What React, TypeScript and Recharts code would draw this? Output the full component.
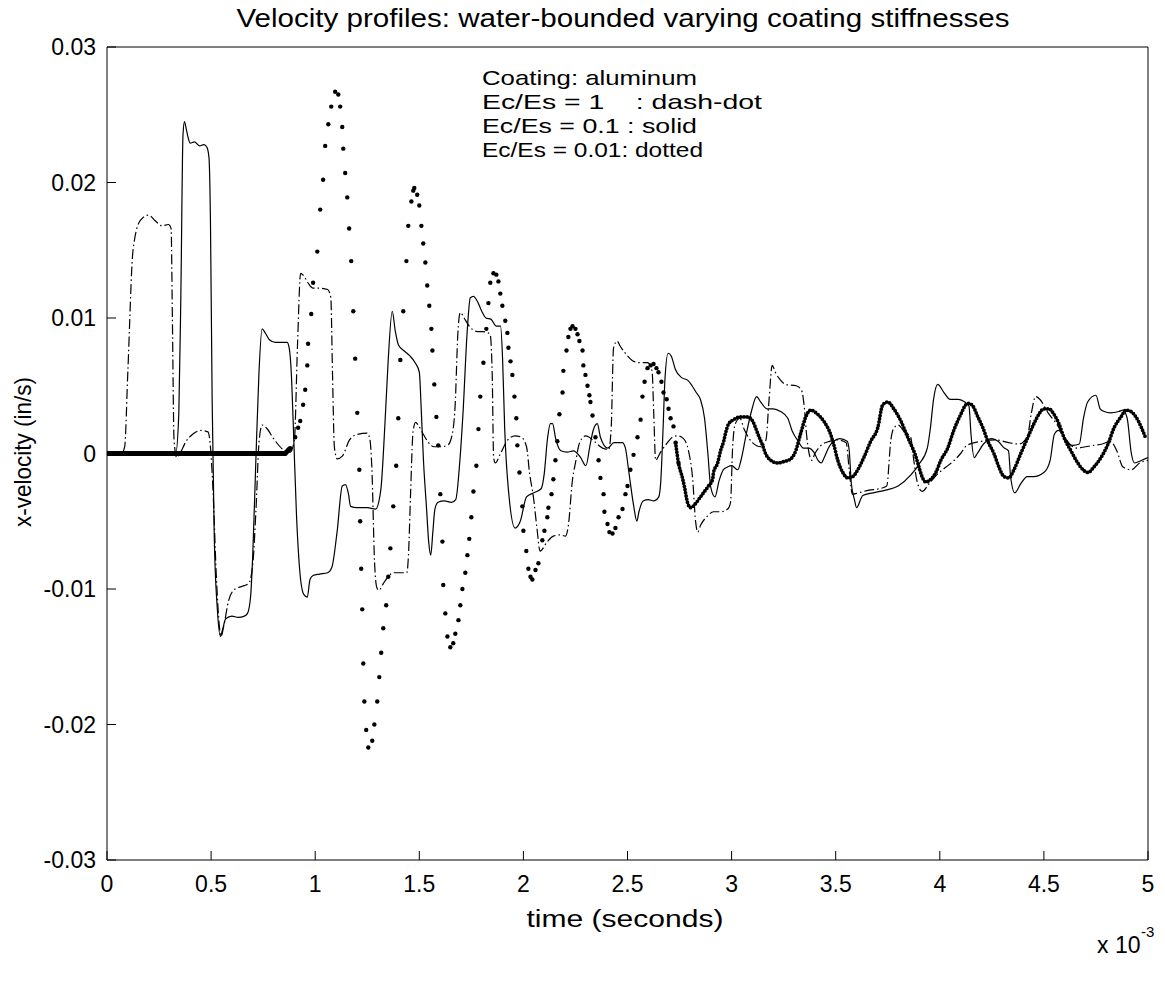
import React from 'react';
import { LineChart, Line, XAxis, YAxis } from 'recharts';

const FONT = '"Liberation Sans", Arial, Helvetica, sans-serif';

const timeTicks = [0, 0.5, 1, 1.5, 2, 2.5, 3, 3.5, 4, 4.5, 5];
const velocityTicks = [-0.03, -0.02, -0.01, 0, 0.01, 0.02, 0.03];

// Ec/Es = 1 (dash-dot), [time x1e-3 s, velocity in/s]
const stiff: [number, number][] = [
  [0, 0], [0.07, 0], [0.085, 0.0005], [0.1, 0.006], [0.125, 0.015], [0.16, 0.0172], [0.2, 0.0176],
  [0.23, 0.0172], [0.265, 0.0168], [0.295, 0.0169], [0.308, 0.0166], [0.314, 0.01], [0.322, 0.001],
  [0.335, -0.0003], [0.35, 0], [0.38, 0.0009], [0.41, 0.0014], [0.45, 0.0017], [0.485, 0.0016],
  [0.495, 0.0008], [0.51, -0.003], [0.525, -0.009], [0.54, -0.0128], [0.548, -0.0135], [0.56, -0.0128],
  [0.585, -0.0108], [0.615, -0.01], [0.65, -0.0098], [0.68, -0.0096], [0.7, -0.0082], [0.716, -0.004],
  [0.73, 0.0008], [0.745, 0.0021], [0.765, 0.0019], [0.8, 0.0011], [0.845, 0.0003], [0.88, 0.0001],
  [0.9, 0.001], [0.915, 0.008], [0.93, 0.0133], [0.945, 0.0131], [0.965, 0.0126], [0.99, 0.0122],
  [1.02, 0.0122], [1.06, 0.0121], [1.075, 0.0115], [1.083, 0.006], [1.092, 0.0005], [1.106, -0.0004],
  [1.13, -0.0002], [1.165, 0.001], [1.2, 0.0014], [1.25, 0.0015], [1.262, 0.0011], [1.272, -0.001],
  [1.285, -0.008], [1.296, -0.0099], [1.305, -0.0101], [1.327, -0.0096], [1.35, -0.0091], [1.375, -0.0088],
  [1.41, -0.0088], [1.44, -0.0088], [1.448, -0.0075], [1.458, -0.003], [1.47, 0.0016], [1.482, 0.0023],
  [1.495, 0.0021], [1.52, 0.0014], [1.54, 0.0009], [1.57, 0.0005], [1.6, 0.0005], [1.635, 0.0006],
  [1.655, 0.0012], [1.672, 0.0035], [1.685, 0.0088], [1.697, 0.0104], [1.715, 0.01], [1.745, 0.0093],
  [1.78, 0.009], [1.805, 0.009], [1.84, 0.0088], [1.85, 0.006], [1.857, -0.0003], [1.865, -0.0007],
  [1.89, 0], [1.925, 0.001], [1.96, 0.0013], [1.99, 0.0012], [2.015, 0.0005], [2.03, -0.0015],
  [2.048, -0.0032], [2.065, -0.0055], [2.08, -0.0072], [2.115, -0.0065], [2.144, -0.0061], [2.178, -0.006],
  [2.202, -0.0061], [2.216, -0.0053], [2.236, -0.0019], [2.25, -0.0007], [2.27, 0.0008], [2.3, 0.0013],
  [2.34, 0.0009], [2.38, 0.0004], [2.41, 0.0003], [2.422, 0.002], [2.433, 0.0078], [2.45, 0.0083],
  [2.466, 0.0079], [2.5, 0.0072], [2.529, 0.0068], [2.563, 0.0067], [2.596, 0.0067], [2.618, 0.0061],
  [2.626, 0.003], [2.635, -0.0005], [2.659, 0.0001], [2.692, 0.0008], [2.716, 0.0012], [2.74, 0.0013],
  [2.769, 0.0011], [2.793, 0.0002], [2.813, -0.0019], [2.827, -0.005], [2.837, -0.0058], [2.851, -0.0053],
  [2.885, -0.0046], [2.913, -0.0043], [2.947, -0.0043], [2.981, -0.0041], [2.995, -0.0036], [3.005, 0.0005],
  [3.018, 0.0022], [3.04, 0.0026], [3.06, 0.0018], [3.1, 0.0008], [3.14, 0.0005], [3.165, 0.001],
  [3.18, 0.004], [3.195, 0.0065], [3.21, 0.006], [3.23, 0.0055], [3.26, 0.0051], [3.31, 0.005],
  [3.335, 0.0047], [3.35, 0.0033], [3.36, 0.0014], [3.37, 0.0002], [3.385, -0.0005], [3.4, 0],
  [3.43, 0.0006], [3.47, 0.0009], [3.51, 0.001], [3.55, 0.0008], [3.565, -0.0012], [3.58, -0.003],
  [3.61, -0.0029], [3.66, -0.0027], [3.71, -0.0026], [3.745, -0.0024], [3.765, 0.001], [3.78, 0.0019],
  [3.8, 0.0021], [3.83, 0.0016], [3.86, 0.0012], [3.875, -0.0005], [3.89, -0.002], [3.915, -0.0028],
  [3.95, -0.0022], [3.99, -0.0015], [4.03, -0.001], [4.07, -0.0005], [4.1, 0], [4.13, 0.0006],
  [4.2, 0.0009], [4.27, 0.001], [4.33, 0.0008], [4.38, 0.0007], [4.42, 0.0012], [4.44, 0.003],
  [4.46, 0.0042], [4.48, 0.004], [4.52, 0.003], [4.56, 0.0022], [4.6, 0.0012], [4.63, 0.0006],
  [4.66, 0.0004], [4.7, 0.0005], [4.74, 0.0006], [4.78, 0.0007], [4.82, 0.0009], [4.85, 0.0002],
  [4.88, -0.001], [4.92, -0.0012], [4.96, -0.0007], [5, -0.0005],
];

// Ec/Es = 0.1 (solid)
const medium: [number, number][] = [
  [0, 0], [0.33, 0], [0.345, 0.003], [0.355, 0.012], [0.365, 0.0235], [0.372, 0.0245], [0.38, 0.024],
  [0.39, 0.0233], [0.4, 0.0229], [0.42, 0.023], [0.445, 0.0227], [0.465, 0.0228], [0.48, 0.0226],
  [0.49, 0.0218], [0.497, 0.017], [0.505, 0.004], [0.515, -0.006], [0.53, -0.0115], [0.545, -0.0135],
  [0.555, -0.013], [0.57, -0.0122], [0.6, -0.012], [0.63, -0.0121], [0.66, -0.012], [0.675, -0.0118],
  [0.69, -0.0105], [0.7, -0.0075], [0.715, -0.0005], [0.73, 0.006], [0.745, 0.0092], [0.76, 0.0089],
  [0.78, 0.0084], [0.81, 0.0082], [0.84, 0.0082], [0.865, 0.0082], [0.875, 0.0078], [0.885, 0.006],
  [0.895, 0.002], [0.91, -0.0045], [0.925, -0.0085], [0.945, -0.0104], [0.962, -0.0106], [0.975, -0.0093],
  [0.99, -0.009], [1.02, -0.0089], [1.06, -0.0088], [1.08, -0.0084], [1.105, -0.0058], [1.13, -0.0024],
  [1.145, -0.0023], [1.16, -0.003], [1.17, -0.0039], [1.2, -0.004], [1.25, -0.004], [1.29, -0.0041],
  [1.315, -0.0027], [1.335, 0.0022], [1.35, 0.0067], [1.37, 0.0105], [1.385, 0.009], [1.4, 0.008],
  [1.425, 0.0076], [1.455, 0.0072], [1.48, 0.0067], [1.5, 0.006], [1.51, 0.003], [1.52, -0.0005],
  [1.535, -0.0041], [1.545, -0.0065], [1.555, -0.0075], [1.565, -0.0058], [1.575, -0.0041], [1.59, -0.0036],
  [1.62, -0.0035], [1.655, -0.0036], [1.675, -0.0034], [1.695, -0.0005], [1.71, 0.003], [1.73, 0.009],
  [1.745, 0.0115], [1.76, 0.0116], [1.78, 0.0112], [1.8, 0.0105], [1.82, 0.01], [1.845, 0.0099],
  [1.87, 0.0094], [1.89, 0.0094], [1.9, 0.007], [1.91, 0.0019], [1.93, -0.003], [1.96, -0.0055],
  [1.985, -0.005], [2.015, -0.0032], [2.05, -0.0029], [2.085, -0.0026], [2.1, -0.0015], [2.115, 0.001],
  [2.13, 0.0022], [2.14, 0.0022], [2.155, 0.0011], [2.18, 0.0002], [2.21, 0.0001], [2.24, 0.0002],
  [2.275, -0.0003], [2.3, -0.0009], [2.32, 0.0006], [2.335, 0.0017], [2.355, 0.0022], [2.37, 0.0012],
  [2.405, 0.0004], [2.435, 0.0008], [2.475, 0.0008], [2.49, 0.0004], [2.505, -0.0012], [2.53, -0.0039],
  [2.545, -0.005], [2.555, -0.0043], [2.575, -0.0035], [2.6, -0.0034], [2.625, -0.0035], [2.65, -0.0032],
  [2.66, -0.002], [2.67, 0.0015], [2.68, 0.0055], [2.695, 0.0074], [2.71, 0.0072], [2.73, 0.0062],
  [2.76, 0.0056], [2.79, 0.0054], [2.81, 0.005], [2.83, 0.0045], [2.85, 0.004], [2.87, 0.0026],
  [2.885, 0.0002], [2.9, -0.0025], [2.92, -0.0032], [2.94, -0.002], [2.96, -0.0012], [2.98, -0.001],
  [3, -0.0009], [3.03, -0.0012], [3.045, -0.0005], [3.07, 0.0014], [3.095, 0.0031], [3.12, 0.0042],
  [3.14, 0.0038], [3.17, 0.0033], [3.2, 0.0033], [3.235, 0.0031], [3.27, 0.0026], [3.29, 0.0017],
  [3.32, 0.0009], [3.345, 0.0004], [3.37, 0.0004], [3.395, 0.0001], [3.415, -0.0005], [3.43, -0.0007],
  [3.445, -0.0003], [3.465, 0.0004], [3.49, 0.0009], [3.52, 0.0011], [3.555, 0.0009], [3.565, 0.0002],
  [3.575, -0.0022], [3.59, -0.0034], [3.6, -0.004], [3.63, -0.0031], [3.68, -0.0029], [3.74, -0.0027],
  [3.8, -0.0024], [3.86, -0.0016], [3.9, -0.0008], [3.94, 0.0004], [3.955, 0.0019], [3.97, 0.004],
  [3.99, 0.0051], [4.02, 0.0045], [4.05, 0.004], [4.09, 0.004], [4.12, 0.0038], [4.14, 0.0035],
  [4.15, 0.0014], [4.165, -0.0003], [4.18, 0], [4.21, 0.0007], [4.25, 0.0011], [4.28, 0.0009],
  [4.31, 0.0004], [4.33, 0.0002], [4.34, -0.0017], [4.36, -0.0029], [4.39, -0.0022], [4.42, -0.0017],
  [4.45, -0.0017], [4.5, -0.0014], [4.53, -0.0005], [4.55, 0.0014], [4.57, 0.0017], [4.62, 0.0007],
  [4.64, 0.0006], [4.67, 0.0007], [4.69, 0.0026], [4.71, 0.0038], [4.75, 0.0043], [4.77, 0.0033],
  [4.79, 0.0031], [4.82, 0.003], [4.86, 0.0031], [4.88, 0.0032], [4.9, 0.0026], [4.92, 0],
  [4.935, -0.0007], [4.97, -0.0005], [5, -0.0003],
];

// Ec/Es = 0.01 (dotted)
const soft: [number, number][] = [
  [0, 0], [0.856, 0], [0.88, 0.0004], [0.904, 0.0012], [0.918, 0.0019], [0.928, 0.0024], [0.942, 0.0036],
  [0.952, 0.0047], [0.962, 0.0065], [0.966, 0.0081], [0.981, 0.0103], [0.99, 0.0126], [1.01, 0.0149],
  [1.024, 0.018], [1.038, 0.0202], [1.048, 0.0227], [1.063, 0.0243], [1.077, 0.0256], [1.096, 0.0267],
  [1.111, 0.0265], [1.12, 0.0256], [1.13, 0.0241], [1.135, 0.0225], [1.144, 0.0207], [1.154, 0.0189],
  [1.163, 0.0166], [1.173, 0.0142], [1.183, 0.0105], [1.192, 0.007], [1.202, 0.003], [1.212, -0.0012],
  [1.216, -0.005], [1.221, -0.0085], [1.226, -0.0115], [1.231, -0.0155], [1.236, -0.0183], [1.245, -0.0204],
  [1.255, -0.0217], [1.274, -0.0212], [1.284, -0.02], [1.298, -0.0183], [1.308, -0.0165], [1.317, -0.0147],
  [1.327, -0.0129], [1.341, -0.0112], [1.351, -0.0091], [1.361, -0.007], [1.375, -0.0039], [1.389, -0.0009],
  [1.399, 0.0026], [1.409, 0.0069], [1.423, 0.0105], [1.438, 0.0142], [1.447, 0.0168], [1.462, 0.0186],
  [1.471, 0.0194], [1.476, 0.0196], [1.49, 0.0191], [1.5, 0.0183], [1.51, 0.0168], [1.519, 0.0155],
  [1.529, 0.0141], [1.538, 0.0124], [1.548, 0.0109], [1.558, 0.0092], [1.563, 0.0076], [1.572, 0.0051],
  [1.582, 0.0027], [1.591, 0.0006], [1.601, -0.003], [1.611, -0.0065], [1.615, -0.0097], [1.625, -0.0118],
  [1.635, -0.0135], [1.649, -0.0143], [1.663, -0.014], [1.673, -0.0133], [1.688, -0.0123], [1.697, -0.0112],
  [1.707, -0.01], [1.721, -0.0088], [1.731, -0.0075], [1.74, -0.0063], [1.75, -0.0047], [1.76, -0.0028],
  [1.774, -0.0009], [1.784, 0.0018], [1.793, 0.0042], [1.808, 0.0067], [1.822, 0.0092], [1.832, 0.0111],
  [1.841, 0.0126], [1.856, 0.0133], [1.87, 0.0132], [1.88, 0.0127], [1.889, 0.0118], [1.899, 0.0109],
  [1.913, 0.0098], [1.923, 0.0089], [1.928, 0.0078], [1.938, 0.0068], [1.947, 0.0058], [1.957, 0.0042],
  [1.966, 0.0026], [1.971, 0.0006], [1.981, -0.0014], [1.995, -0.0039], [2.0, -0.0057], [2.014, -0.0072],
  [2.024, -0.0085], [2.034, -0.0091], [2.043, -0.0093], [2.058, -0.0086], [2.072, -0.0081], [2.091, -0.0064],
  [2.101, -0.0057], [2.115, -0.0047], [2.12, -0.004], [2.135, -0.003], [2.144, -0.0019], [2.154, -0.0005],
  [2.163, 0.0009], [2.173, 0.0029], [2.188, 0.0045], [2.192, 0.0061], [2.207, 0.0076], [2.216, 0.0086],
  [2.226, 0.0092], [2.236, 0.0094], [2.25, 0.0092], [2.26, 0.0088], [2.269, 0.0083], [2.284, 0.0076],
  [2.288, 0.0065], [2.298, 0.0058], [2.308, 0.005], [2.317, 0.0043], [2.322, 0.0038], [2.332, 0.0028],
  [2.346, 0.0012], [2.361, -0.0005], [2.37, -0.0018], [2.385, -0.003], [2.389, -0.0043], [2.404, -0.0052],
  [2.413, -0.0058], [2.428, -0.0059], [2.442, -0.0055], [2.457, -0.0047], [2.476, -0.0041], [2.49, -0.003],
  [2.5, -0.0024], [2.514, -0.0012], [2.529, -0.0001], [2.548, 0.0012], [2.563, 0.0025], [2.572, 0.0042],
  [2.582, 0.0053], [2.596, 0.0063], [2.611, 0.0065], [2.625, 0.0066], [2.639, 0.0063], [2.649, 0.006],
  [2.663, 0.0053], [2.673, 0.0045], [2.688, 0.004], [2.697, 0.0033], [2.707, 0.0026], [2.721, 0.002],
  [2.731, 0.0008], [2.745, -0.0007], [2.764, -0.0018], [2.774, -0.0025], [2.788, -0.0036], [2.803, -0.004],
  [2.827, -0.0037], [2.841, -0.0034], [2.865, -0.0029], [2.889, -0.0024], [2.909, -0.0019], [2.913, -0.0014],
  [2.933, -0.0007], [2.947, 0.0002], [2.962, 0.0009], [2.971, 0.0015], [2.986, 0.0022], [3.01, 0.0025],
  [3.043, 0.0027], [3.077, 0.0027], [3.101, 0.0024], [3.115, 0.0019], [3.13, 0.0013], [3.149, 0.0006],
  [3.163, 0], [3.188, -0.0005], [3.221, -0.0007], [3.25, -0.0006], [3.284, -0.0004], [3.308, 0.0002],
  [3.332, 0.0015], [3.356, 0.0027], [3.38, 0.0032], [3.413, 0.0029], [3.442, 0.0024], [3.476, 0.0014],
  [3.49, 0.0007], [3.51, -0.0005], [3.534, -0.0014], [3.558, -0.0018], [3.582, -0.0017], [3.606, -0.0012],
  [3.635, -0.0003], [3.668, 0.0009], [3.702, 0.0019], [3.726, 0.0036], [3.75, 0.0038], [3.779, 0.0033],
  [3.813, 0.0024], [3.846, 0.0012], [3.875, 0.0002], [3.933, -0.0021], [3.957, -0.0019], [3.981, -0.0014],
  [4.005, -0.0005], [4.038, 0.0004], [4.067, 0.0017], [4.101, 0.0029], [4.125, 0.0036], [4.139, 0.0037],
  [4.159, 0.0035], [4.183, 0.0027], [4.207, 0.0019], [4.231, 0.0009], [4.26, 0], [4.284, -0.001],
  [4.308, -0.0017], [4.332, -0.0018], [4.356, -0.0012], [4.389, 0], [4.423, 0.0012], [4.452, 0.0022],
  [4.476, 0.0029], [4.5, 0.0033], [4.524, 0.0033], [4.548, 0.0029], [4.572, 0.0022], [4.596, 0.0012],
  [4.63, 0.0002], [4.663, -0.0007], [4.688, -0.0012], [4.712, -0.0014], [4.74, -0.001], [4.774, -0.0003],
  [4.808, 0.0007], [4.837, 0.0019], [4.87, 0.0027], [4.894, 0.0032], [4.918, 0.0031], [4.942, 0.0027],
  [4.966, 0.002], [4.99, 0.0011],
];

const toRows = (pts: [number, number][]) => pts.map(([t, v]) => ({ t, v }));

const stiffRows = toRows(stiff);
const mediumRows = toRows(medium);
const softRows = toRows(soft);
// the soft coating trace is drawn in three pieces: the quiet lead-in (dense markers),
// the large swings (sparse markers) and the settled tail (dense markers)
const softLead = softRows.filter((d) => d.t <= 0.88);
const softSwing = softRows.filter((d) => d.t >= 0.88 && d.t <= 2.75);
const softTail = softRows.filter((d) => d.t >= 2.73);

const tickStyle = { fill: '#000', fontSize: 23, fontFamily: FONT };

const NB = '\u00A0';

export default function App() {
  return (
    <div style={{ position: 'absolute', left: 0, top: 0, width: 1165, height: 982, background: '#fff' }}>
      <LineChart width={1165} height={982} margin={{ top: 46, right: 16, bottom: 62, left: 37 }}>
        <XAxis
          xAxisId="b"
          type="number"
          dataKey="t"
          domain={[0, 5]}
          ticks={timeTicks}
          interval={0}
          height={60}
          tickSize={-9}
          tickMargin={25}
          tick={tickStyle}
          tickFormatter={(v) => String(v)}
          stroke="#000"
          allowDataOverflow
        />
        <XAxis
          xAxisId="top"
          orientation="top"
          type="number"
          dataKey="t"
          domain={[0, 5]}
          ticks={timeTicks}
          interval={0}
          height={1}
          tickSize={-9}
          tick={false}
          stroke="#000"
          allowDataOverflow
        />
        <YAxis
          yAxisId="l"
          type="number"
          domain={[-0.03, 0.03]}
          ticks={velocityTicks}
          interval={0}
          width={70}
          tickSize={-9}
          tickMargin={20}
          tick={tickStyle}
          tickFormatter={(v) => String(v)}
          stroke="#000"
          allowDataOverflow
        />
        <YAxis
          yAxisId="r"
          orientation="right"
          type="number"
          domain={[-0.03, 0.03]}
          ticks={velocityTicks}
          interval={0}
          width={1}
          tickSize={-9}
          tick={false}
          stroke="#000"
          allowDataOverflow
        />

        <Line
          xAxisId="b"
          yAxisId="l"
          data={softLead}
          dataKey="v"
          type="linear"
          stroke="#000"
          strokeWidth={5}
          dot={false}
          activeDot={false}
          isAnimationActive={false}
        />
        <Line
          xAxisId="b"
          yAxisId="l"
          data={softSwing}
          dataKey="v"
          type="linear"
          stroke="none"
          dot={{ r: 2.2, fill: '#000', stroke: 'none' }}
          activeDot={false}
          isAnimationActive={false}
        />
        <Line
          xAxisId="b"
          yAxisId="l"
          data={softTail}
          dataKey="v"
          type="monotone"
          stroke="#000"
          strokeWidth={3.8}
          strokeDasharray="0 3.2"
          strokeLinecap="round"
          dot={false}
          activeDot={false}
          isAnimationActive={false}
        />
        <Line
          xAxisId="b"
          yAxisId="l"
          data={mediumRows}
          dataKey="v"
          type="monotone"
          stroke="#000"
          strokeWidth={1.2}
          dot={false}
          activeDot={false}
          isAnimationActive={false}
        />
        <Line
          xAxisId="b"
          yAxisId="l"
          data={stiffRows}
          dataKey="v"
          type="monotone"
          stroke="#000"
          strokeWidth={1.2}
          strokeDasharray="10 3 1.5 3"
          dot={false}
          activeDot={false}
          isAnimationActive={false}
        />
      </LineChart>

      <svg
        width={1165}
        height={982}
        style={{ position: 'absolute', left: 0, top: 0, pointerEvents: 'none' }}
        fontFamily={FONT}
        fill="#000"
      >
        <text x={623} y={27} fontSize={25} textAnchor="middle" textLength={773} lengthAdjust="spacingAndGlyphs">
          Velocity profiles: water-bounded varying coating stiffnesses
        </text>
        <text
          x={31}
          y={452}
          fontSize={24}
          textAnchor="middle"
          transform="rotate(-90 31 452)"
          textLength={150}
          lengthAdjust="spacingAndGlyphs"
        >
          x-velocity (in/s)
        </text>
        <text x={625} y={927} fontSize={23} textAnchor="middle" textLength={197} lengthAdjust="spacingAndGlyphs">
          time (seconds)
        </text>
        <text x={1097} y={953} fontSize={23}>x 10</text>
        <text x={1141} y={937} fontSize={15}>-3</text>
        <g fontSize={21}>
          <text x={482} y={85} textLength={215} lengthAdjust="spacingAndGlyphs">Coating: aluminum</text>
          <text x={482} y={109} textLength={280} lengthAdjust="spacingAndGlyphs">
            {`Ec/Es = 1${NB}${NB}${NB}${NB}: dash-dot`}
          </text>
          <text x={482} y={133} textLength={215} lengthAdjust="spacingAndGlyphs">Ec/Es = 0.1 : solid</text>
          <text x={482} y={157} textLength={221} lengthAdjust="spacingAndGlyphs">Ec/Es = 0.01: dotted</text>
        </g>
      </svg>
    </div>
  );
}
